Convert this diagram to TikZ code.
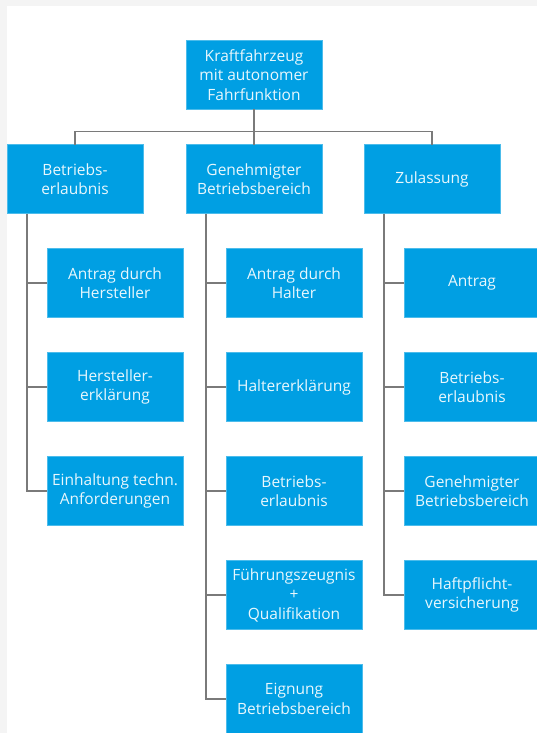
\documentclass[tikz,border=0pt]{standalone}
\usepackage{fontspec}
\setmainfont{Open Sans}
\usetikzlibrary{positioning, calc}
\definecolor{boxblue}{HTML}{009FE3}
\definecolor{boxtext}{HTML}{E8F7FD}
\definecolor{linegray}{HTML}{7A7A7A}
\definecolor{pagegray}{HTML}{F4F4F4}

\begin{document}
\begin{tikzpicture}[x=1pt, y=-1pt,
  hbox/.style={rectangle, draw=boxblue!70!white, line width=0.8pt, fill=boxblue,
              text=boxtext, align=center, minimum width=136pt, minimum height=69pt,
              inner sep=0pt, outer sep=0pt, font=\fontsize{15.5}{19.5}\selectfont},
  conn/.style={draw=linegray, line width=1.3pt}
]
\useasboundingbox (0,0) rectangle (537,733);
\clip (0,0) rectangle (537,733);
\fill[pagegray] (0,0) rectangle (537,733);
\fill[white] (7,6) rectangle (537,733);

% top and first level
\node[hbox] (kfz) at (254,75) {Kraftfahrzeug\\mit autonomer\\Fahrfunktion};
\node[hbox, below=35pt of kfz, xshift=-179pt] (betr) {Betriebs-\\erlaubnis};
\node[hbox, below=35pt of kfz] (gen) {Genehmigter\\Betriebsbereich};
\node[hbox, below=35pt of kfz, xshift=178pt] (zul) {Zulassung};

% left column
\node[hbox, below=35pt of betr, xshift=40pt] (b1) {Antrag durch\\Hersteller};
\node[hbox, below=35pt of b1] (b2) {Hersteller-\\erklärung};
\node[hbox, below=35pt of b2] (b3) {Einhaltung techn.\\Anforderungen};

% middle column
\node[hbox, below=35pt of gen, xshift=40pt] (g1) {Antrag durch\\Halter};
\node[hbox, below=35pt of g1] (g2) {Haltererklärung};
\node[hbox, below=35pt of g2] (g3) {Betriebs-\\erlaubnis};
\node[hbox, below=35pt of g3] (g4) {Führungszeugnis\\+\\Qualifikation};
\node[hbox, below=35pt of g4] (g5) {Eignung\\Betriebsbereich};

% right column
\node[hbox, below=35pt of zul, xshift=40pt] (z1) {Antrag};
\node[hbox, below=35pt of z1] (z2) {Betriebs-\\erlaubnis};
\node[hbox, below=35pt of z2] (z3) {Genehmigter\\Betriebsbereich};
\node[hbox, below=35pt of z3] (z4) {Haftpflicht-\\versicherung};

% connectors
\coordinate (bar) at ($(kfz.south)!0.63!(gen.north)$);
\draw[conn] (kfz.south) -- (gen.north);
\draw[conn] (betr.north) |- (bar) -| (zul.north);

\coordinate (btrunk) at ([xshift=20pt]betr.south west);
\coordinate (gtrunk) at ([xshift=20pt]gen.south west);
\coordinate (ztrunk) at ([xshift=20pt]zul.south west);
\draw[conn] (btrunk) |- (b3.west);
\draw[conn] (b1.west) -- (b1.west -| btrunk);
\draw[conn] (b2.west) -- (b2.west -| btrunk);
\draw[conn] (gtrunk) |- (g5.west);
\draw[conn] (g1.west) -- (g1.west -| gtrunk);
\draw[conn] (g2.west) -- (g2.west -| gtrunk);
\draw[conn] (g3.west) -- (g3.west -| gtrunk);
\draw[conn] (g4.west) -- (g4.west -| gtrunk);
\draw[conn] (ztrunk) |- (z4.west);
\draw[conn] (z1.west) -- (z1.west -| ztrunk);
\draw[conn] (z2.west) -- (z2.west -| ztrunk);
\draw[conn] (z3.west) -- (z3.west -| ztrunk);
\end{tikzpicture}
\end{document}
